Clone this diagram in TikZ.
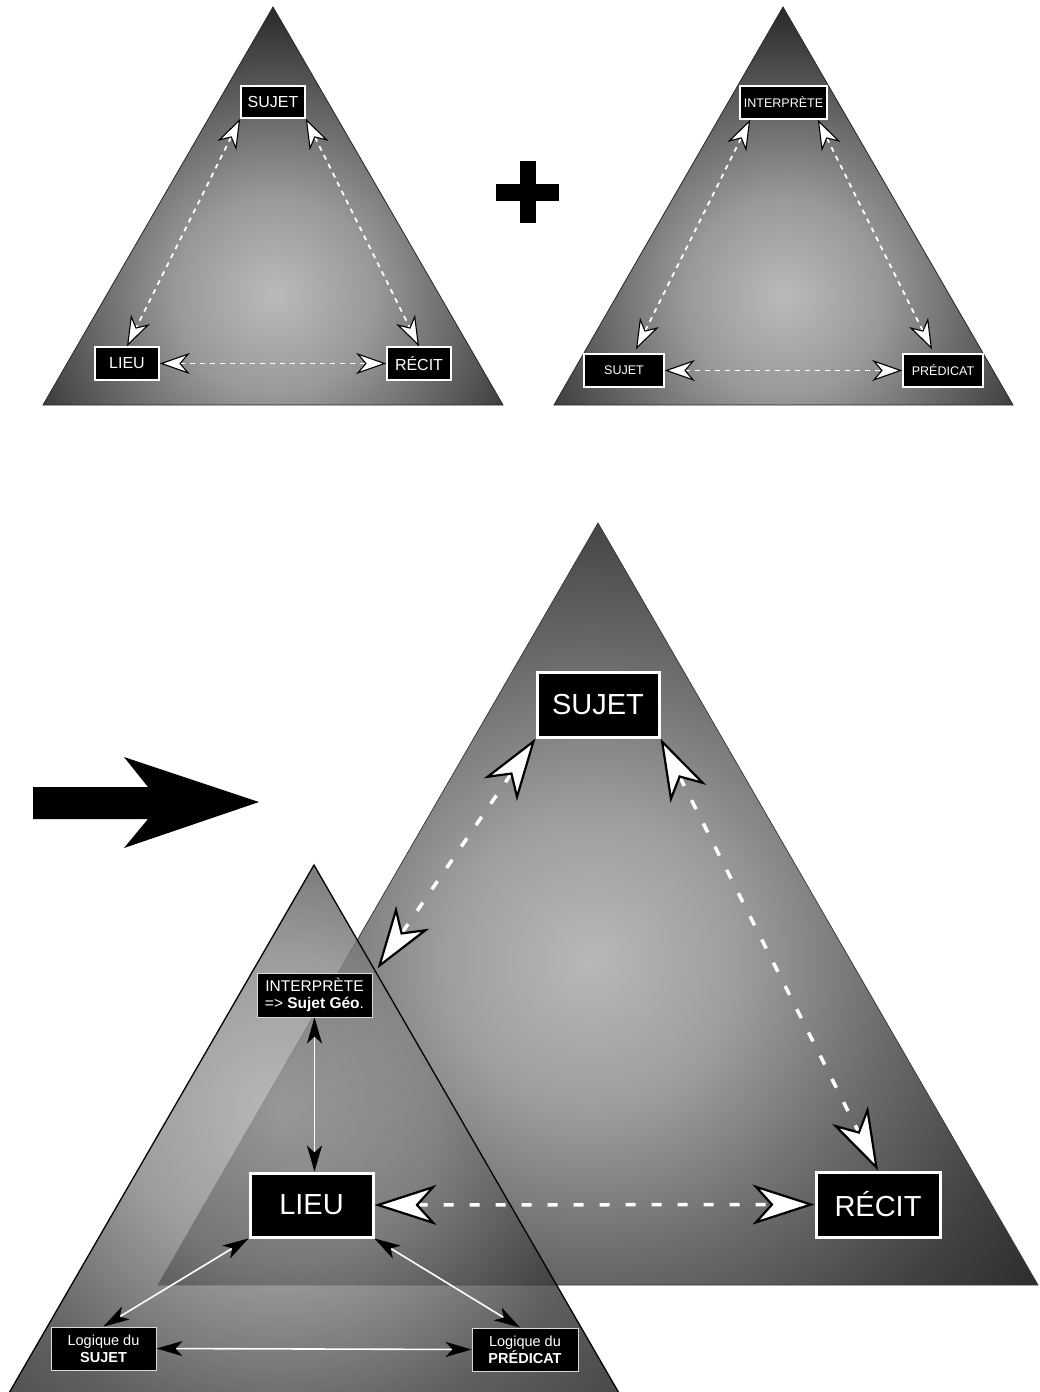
\documentclass[tikz,border=0pt]{standalone}
\usepackage{fontspec}
\setmainfont{Liberation Sans}
\usetikzlibrary{arrows.meta}
\pgfdeclareradialshading{topsh}{\pgfpoint{0bp}{0bp}}{rgb(0bp)=(0.73,0.73,0.73); rgb(8.5bp)=(0.6,0.6,0.6); rgb(17.5bp)=(0.36,0.36,0.36); rgb(25bp)=(0.16,0.16,0.16); rgb(50bp)=(0.16,0.16,0.16)}
\pgfdeclareradialshading{bigsh}{\pgfpoint{0bp}{0bp}}{rgb(0bp)=(0.72,0.72,0.72); rgb(6.5bp)=(0.62,0.62,0.62); rgb(13.5bp)=(0.42,0.42,0.42); rgb(20bp)=(0.26,0.26,0.26); rgb(25bp)=(0.17,0.17,0.17); rgb(50bp)=(0.17,0.17,0.17)}
\pgfdeclareradialshading{smallsh}{\pgfpoint{0bp}{0bp}}{rgb(0bp)=(0.65,0.65,0.65); rgb(8.5bp)=(0.52,0.52,0.52); rgb(14bp)=(0.35,0.35,0.35); rgb(18bp)=(0.22,0.22,0.22); rgb(25bp)=(0.1,0.1,0.1); rgb(50bp)=(0.1,0.1,0.1)}
\tikzset{
  wtip/.tip={Stealth[length=30pt,width=21pt,inset=9pt,fill=white,color=black,line width=1.1pt]},
  btip/.tip={Stealth[length=62pt,width=40pt,inset=18pt,fill=white,color=black,line width=2.2pt]},
  ktip/.tip={Stealth[length=26pt,width=15pt,inset=7pt,fill=black,color=black,line width=0.5pt]},
  triline/.style={draw=black!85,line width=0.8pt},
  box/.style={draw=white,fill=black,text=white,inner sep=0pt,align=center},
  topbox/.style={box,line width=1.5pt,font=\fontsize{16}{19}\selectfont},
  trbox/.style={box,line width=1.5pt,font=\fontsize{12.5}{15}\selectfont},
  bigbox/.style={box,line width=3pt,font=\fontsize{29}{34}\selectfont},
  smbox/.style={box,draw=black!15,line width=1pt},
  tdash/.style={white,line width=1.8pt,dash pattern=on 5pt off 5pt,wtip-wtip},
  bdash/.style={white,line width=3.5pt,dash pattern=on 10pt off 16pt,btip-btip},
  kline/.style={white,line width=1.6pt,ktip-ktip}
}
\begin{document}
\begin{tikzpicture}[x=1pt,y=-1pt]
\useasboundingbox (0,0) rectangle (1039,1392);
% top-left triangle
\begin{scope}
\clip (273,7) -- (503,405) -- (43,405) -- cycle;
\shade[shading=topsh] (275,295) circle (290pt);
\end{scope}
\draw[triline] (273,7) -- (503,405) -- (43,405) -- cycle;
% top-right triangle
\begin{scope}
\clip (783,7) -- (1013,405) -- (554,405) -- cycle;
\shade[shading=topsh] (784,297) circle (290pt);
\end{scope}
\draw[triline] (783,7) -- (1013,405) -- (554,405) -- cycle;
% plus
\fill (520,161) rectangle (536,223);
\fill (496,184) rectangle (559,201);
% big arrow
\fill (33,787) -- (148,787) -- (124,757) -- (259,802) -- (124,848) -- (148,819) -- (33,819) -- cycle;
% big triangle
\begin{scope}
\clip (598,523) -- (1038,1285) -- (158,1285) -- cycle;
\shade[shading=bigsh] (590,960) circle (560pt);
\end{scope}
\draw[draw=black!80,line width=0.7pt] (598,523) -- (1038,1285) -- (158,1285) -- cycle;
% small triangle
\begin{scope}[transparency group,opacity=0.8]
\clip (314,865) -- (623,1400) -- (5,1400) -- cycle;
\shade[shading=smallsh] (280,1110) circle (450pt);
\end{scope}
\draw[line width=1.3pt] (5,1400) -- (314,865) -- (623,1400);
% top-left boxes
\node[topbox,minimum width=64pt,minimum height=32pt] (s1) at (273,102) {SUJET};
\node[topbox,minimum width=64pt,minimum height=33pt] (l1) at (127,363.5) {LIEU};
\node[topbox,minimum width=64pt,minimum height=33pt] (r1) at (419,363.5) {RÉCIT};
\draw[tdash] (s1.south west) -- (l1.north);
\draw[tdash] (s1.south east) -- (r1.north);
\draw[tdash] (l1.east) -- (r1.west);
% top-right boxes
\node[trbox,minimum width=87pt,minimum height=33pt] (i2) at (783.5,102.5) {INTERPRÈTE};
\node[trbox,minimum width=80pt,minimum height=33pt] (s2) at (624,370.5) {SUJET};
\node[trbox,minimum width=80pt,minimum height=33pt] (p2) at (943,370.5) {PRÉDICAT};
\draw[tdash] ([xshift=11pt]i2.south west) -- ([shift={(12,-4)}]s2.north);
\draw[tdash] ([xshift=-10pt]i2.south east) -- ([shift={(-11,-4)}]p2.north);
\draw[tdash] (s2.east) -- (p2.west);
% big triangle boxes
\node[bigbox,minimum width=122pt,minimum height=65pt] (s3) at (598,704.5) {SUJET};
\node[bigbox,minimum width=123pt,minimum height=64pt] (l3) at (311.5,1205) {LIEU};
\node[bigbox,minimum width=124pt,minimum height=65pt] (r3) at (878,1204.5) {RÉCIT};
% small triangle boxes
\node[smbox,minimum width=115pt,minimum height=44pt,font=\fontsize{15.5}{17}\selectfont] (i4) at (314.5,995) {INTERPRÈTE\\=> \textbf{Sujet Géo}.};
\node[smbox,minimum width=105pt,minimum height=43pt,font=\fontsize{14.5}{17}\selectfont] (ls4) at (103.5,1348.5) {Logique du\\\textbf{SUJET}};
\node[smbox,minimum width=106pt,minimum height=43pt,font=\fontsize{14.5}{17}\selectfont] (lp4) at (525,1349.5) {Logique du\\\textbf{PRÉDICAT}};
\draw[bdash] (s3.south west) -- ([shift={(5,-4)}]i4.north east);
\draw[bdash] (s3.south east) -- (r3.north);
\draw[bdash] (l3.east) -- (r3.west);
\draw[kline] (i4.south) -- (i4.south |- l3.north);
\draw[kline] (l3.south west) -- (ls4.north);
\draw[kline] (l3.south east) -- ([xshift=-5pt]lp4.north);
\draw[kline] (ls4.east) -- (lp4.west);
\end{tikzpicture}
\end{document}
